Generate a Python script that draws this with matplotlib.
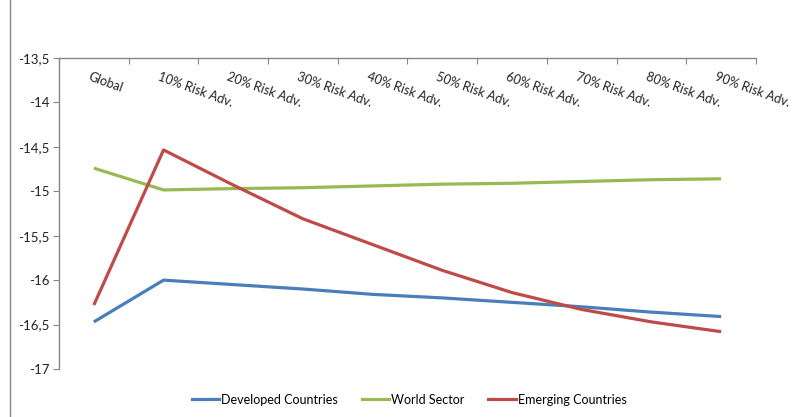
import matplotlib.pyplot as plt
from matplotlib.ticker import FuncFormatter, MultipleLocator
from matplotlib.lines import Line2D
from matplotlib.transforms import blended_transform_factory

categories = ["Global", "10% Risk Adv.", "20% Risk Adv.", "30% Risk Adv.",
              "40% Risk Adv.", "50% Risk Adv.", "60% Risk Adv.",
              "70% Risk Adv.", "80% Risk Adv.", "90% Risk Adv."]
developed = [-16.47, -16.00, -16.05, -16.10, -16.16, -16.20, -16.25, -16.30, -16.36, -16.41]
world = [-14.74, -14.985, -14.97, -14.96, -14.94, -14.92, -14.91, -14.89, -14.87, -14.86]
emerging = [-16.28, -14.535, -14.93, -15.31, -15.60, -15.89, -16.14, -16.33, -16.47, -16.58]

series = [("Developed Countries", developed, "#4A7EBB"),
          ("World Sector", world, "#98B954"),
          ("Emerging Countries", emerging, "#BE4B48")]

plt.rcParams['font.family'] = ['Lato', 'DejaVu Sans']

fig = plt.figure(figsize=(7.93, 4.17), dpi=100)
ax = fig.add_axes([0.0744, 0.1151, 0.8789, 0.7459])

x = list(range(len(categories)))
for name, vals, col in series:
    ax.plot(x, vals, color=col, lw=2.3, label=name, solid_capstyle='butt')

ax.set_xlim(-0.5, len(categories) - 0.5)
ax.set_ylim(-17, -13.5)
ax.yaxis.set_major_locator(MultipleLocator(0.5))
ax.yaxis.set_major_formatter(FuncFormatter(lambda v, p: f"{v:g}".replace(".", ",")))
ax.tick_params(axis='y', direction='out', length=4, color='#868686',
               labelsize=9.5, labelcolor='#222222', pad=3)

# category axis sits on top, ticks between categories
ax.xaxis.set_ticks_position('top')
ax.set_xticks([i - 0.5 for i in range(len(categories) + 1)])
ax.tick_params(axis='x', direction='in', length=4, color='#868686',
               labeltop=False, labelbottom=False)

for s in ['right', 'bottom']:
    ax.spines[s].set_visible(False)
for s in ['left', 'top']:
    ax.spines[s].set_color('#868686')
    ax.spines[s].set_linewidth(1.0)

trans = blended_transform_factory(ax.transData, ax.transAxes)
for i, lab in enumerate(categories):
    ax.text(i - 0.05, 0.958, lab, transform=trans, rotation=-20,
            rotation_mode='anchor', ha='left', va='top',
            fontsize=9.1, color='#222222')

# chart area border on the left
fig.add_artist(Line2D([10 / 793, 10 / 793], [0, 1], color='#868686', lw=1.0))

handles = [Line2D([], [], color=c, lw=2.3) for _, _, c in series]
fig.legend(handles, [n for n, _, _ in series], loc='lower center',
           bbox_to_anchor=(0.516, 0.0), ncol=3, frameon=False, fontsize=9,
           handlelength=2.2, handletextpad=0.15, columnspacing=1.9)

fig.savefig("out.png", dpi=100)
